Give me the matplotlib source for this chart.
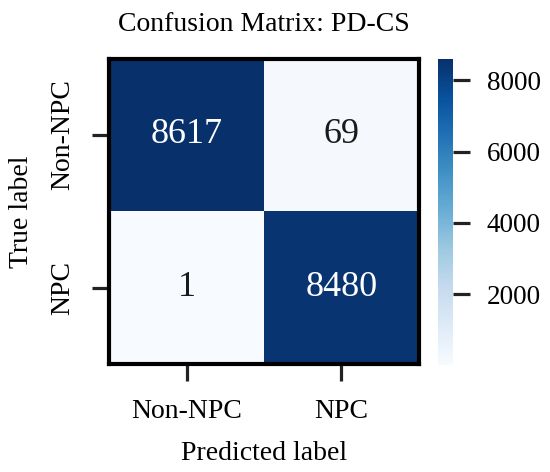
import numpy as np
import matplotlib
matplotlib.use('Agg')
import matplotlib.pyplot as plt

# confusion matrix values
class_names = ['Non-NPC', 'NPC']
cm = np.array([[8617, 69],
               [1, 8480]])
cbar_ticks = [2000, 4000, 6000, 8000]

plt.rcParams['font.family'] = ['Liberation Serif', 'DejaVu Serif']
plt.rcParams['font.size'] = 20

fig = plt.figure(figsize=(5.5, 4.72), dpi=100)
ax = fig.add_axes([0.199, 0.228, 0.562, 0.648])
cax = fig.add_axes([0.797, 0.226, 0.027, 0.650])

im = ax.imshow(cm, cmap='Blues', aspect='auto', vmin=cm.min(), vmax=cm.max(),
               interpolation='nearest')

# cell annotations
thresh = (cm.max() + cm.min()) / 2
for i in range(cm.shape[0]):
    for j in range(cm.shape[1]):
        ax.text(j, i, str(cm[i, j]), ha='center', va='center', fontsize=26,
                color='white' if cm[i, j] > thresh else '#1a1a1a')

ax.set_xticks(range(len(class_names)))
ax.set_yticks(range(len(class_names)))
ax.set_xticklabels(class_names)
ax.set_yticklabels(class_names, rotation=90, va='center')
ax.tick_params(length=12, width=2.3, color='#222222', pad=13)
for sp in ax.spines.values():
    sp.set_linewidth(3)
    sp.set_color('black')

ax.set_title('Confusion Matrix: PD-CS', fontsize=20, pad=20)
ax.set_xlabel('Predicted label', labelpad=12)
ax.set_ylabel('True label', labelpad=11)

cb = fig.colorbar(im, cax=cax, ticks=cbar_ticks)
cb.outline.set_visible(False)
cb.ax.tick_params(length=12, width=2.3, color='#222222', pad=12, labelsize=19.5)

fig.savefig('out.png', dpi=100)
